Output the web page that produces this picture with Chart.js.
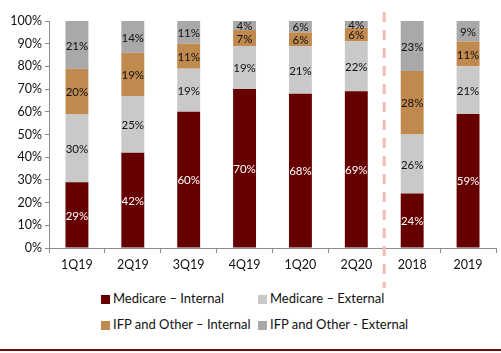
<!DOCTYPE html>
<html>
<head>
<meta charset="utf-8">
<script src="https://cdn.jsdelivr.net/npm/chart.js@4"></script>
<style>
    html, body { margin: 0; padding: 0; background: #fff; }
    #wrap { position: relative; width: 501px; height: 353px; overflow: hidden; }
    #chartBox { position: absolute; left: 0; top: 0; width: 501px; height: 290px; }
    .legend { position: absolute; font-family: Lato, 'Open Sans', sans-serif; font-size: 13px; color: #111; white-space: nowrap; }
    .legend i { display: inline-block; width: 9px; height: 9px; margin-right: 3px; vertical-align: -0.5px; }
    #bottomLine { position: absolute; left: 0; top: 349px; width: 501px; height: 2px; background: #6b0f0f; }
</style>
</head>
<body>
<div id="wrap">
    <div id="chartBox"><canvas id="mixChart"></canvas></div>
    <div id="legend"></div>
    <div id="bottomLine"></div>
</div>
<script>
const categories = ['1Q19', '2Q19', '3Q19', '4Q19', '1Q20', '2Q20', '2018', '2019'];
const medicareInternal = [29, 42, 60, 70, 68, 69, 24, 59];
const medicareExternal = [30, 25, 19, 19, 21, 22, 26, 21];
const ifpInternal = [20, 19, 11, 7, 6, 6, 28, 11];
const ifpExternal = [21, 14, 11, 4, 6, 4, 23, 9];
const yTicks = [0, 10, 20, 30, 40, 50, 60, 70, 80, 90, 100];

const series = [
    { label: 'Medicare – Internal', data: medicareInternal, color: '#660000', text: '#fff' },
    { label: 'Medicare – External', data: medicareExternal, color: '#c9c9c9', text: '#111' },
    { label: 'IFP and Other – Internal', data: ifpInternal, color: '#c08a4f', text: '#111' },
    { label: 'IFP and Other - External', data: ifpExternal, color: '#a9a9a9', text: '#111' }
];

// percentage labels in the middle of each segment
const segmentLabels = {
    id: 'segmentLabels',
    afterDatasetsDraw(chart) {
        const ctx = chart.ctx;
        ctx.save();
        ctx.font = '11.5px Lato, "Open Sans", sans-serif';
        ctx.textAlign = 'center';
        ctx.textBaseline = 'middle';
        chart.data.datasets.forEach((ds, i) => {
            chart.getDatasetMeta(i).data.forEach((bar, j) => {
                const top = Math.max(bar.y, chart.chartArea.top);
                ctx.fillStyle = series[i].text;
                ctx.fillText(ds.data[j] + '%', bar.x, (top + bar.base) / 2 + 1);
            });
        });
        ctx.restore();
    }
};

// dashed separator between quarters and years
const separator = {
    id: 'separator',
    afterDatasetsDraw(chart) {
        const x = chart.scales.x.getPixelForValue(5.5);
        const ctx = chart.ctx;
        ctx.save();
        ctx.strokeStyle = '#f0bcb4';
        ctx.lineWidth = 3;
        ctx.setLineDash([10, 8]);
        ctx.beginPath();
        ctx.moveTo(x, 12);
        ctx.lineTo(x, 288);
        ctx.stroke();
        ctx.restore();
    }
};

const chart = new Chart(document.getElementById('mixChart').getContext('2d'), {
    type: 'bar',
    data: {
        labels: categories,
        datasets: series.map(s => ({
            label: s.label,
            data: s.data,
            backgroundColor: s.color,
            borderWidth: 0,
            barPercentage: 0.41,
            categoryPercentage: 1
        }))
    },
    options: {
        responsive: true,
        maintainAspectRatio: false,
        animation: false,
        events: [],
        layout: { padding: { left: 0, right: 5, top: 21, bottom: 0 } },
        plugins: {
            legend: { display: false },
            tooltip: { enabled: false }
        },
        scales: {
            x: {
                stacked: true,
                afterFit: s => { s.height = 42; },
                border: { color: '#8c8c8c', width: 1 },
                grid: { offset: true, drawOnChartArea: false, drawTicks: true, tickLength: 5, color: '#8c8c8c' },
                ticks: {
                    color: '#111',
                    padding: 4,
                    font: { family: 'Lato, "Open Sans", sans-serif', size: 12.5 }
                }
            },
            y: {
                stacked: true,
                min: 0,
                max: 100,
                afterFit: s => { s.width = 49; },
                afterBuildTicks: s => { s.ticks = yTicks.map(v => ({ value: v })); },
                border: { color: '#8c8c8c', width: 1 },
                grid: { drawOnChartArea: false, drawTicks: true, tickLength: 4, color: '#8c8c8c' },
                ticks: {
                    color: '#111',
                    padding: 3,
                    font: { family: 'Lato, "Open Sans", sans-serif', size: 12.5 },
                    callback: v => v + '%'
                }
            }
        }
    },
    plugins: [segmentLabels, separator]
});

// two-row legend under the chart
const legendPos = [[101, 290], [258, 290], [101, 316], [258, 316]];
const legendBox = document.getElementById('legend');
series.forEach((s, i) => {
    const item = document.createElement('div');
    item.className = 'legend';
    item.style.left = legendPos[i][0] + 'px';
    item.style.top = legendPos[i][1] + 'px';
    item.innerHTML = '<i style="background:' + s.color + '"></i>' + s.label;
    legendBox.appendChild(item);
});
</script>
</body>
</html>
